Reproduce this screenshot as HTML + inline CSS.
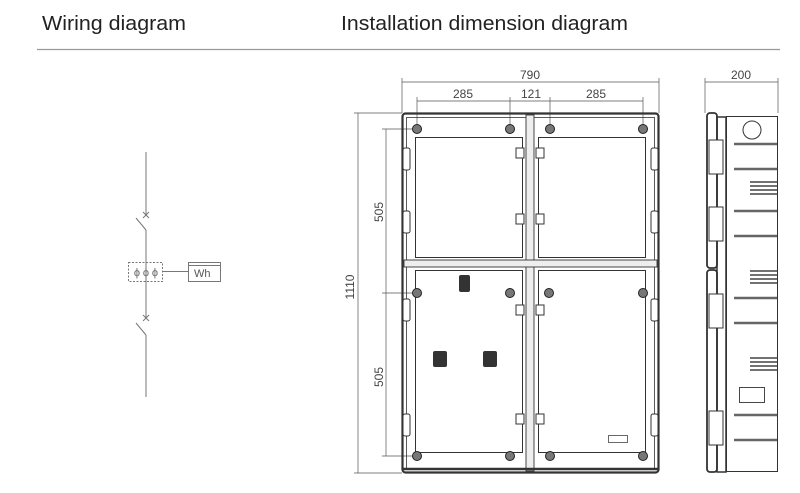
<!DOCTYPE html>
<html><head><meta charset="utf-8"><style>
html,body{margin:0;padding:0;background:#fff;}
svg{display:block;font-family:"Liberation Sans",sans-serif;}
</style></head><body>
<svg width="800" height="493" viewBox="0 0 800 493" xmlns="http://www.w3.org/2000/svg">
<rect width="800" height="493" fill="#fff"/>
<text x="42" y="30" font-size="20" fill="#222" textLength="144" lengthAdjust="spacingAndGlyphs">Wiring diagram</text>
<text x="341" y="30" font-size="20" fill="#222" textLength="287" lengthAdjust="spacingAndGlyphs">Installation dimension diagram</text>
<line x1="37" y1="49.5" x2="780" y2="49.5" stroke="#999" stroke-width="1.2"/>

<!-- wiring -->
<g stroke="#777" stroke-width="1" fill="none">
<line x1="146" y1="152" x2="146" y2="216"/>
<line x1="136" y1="218" x2="146" y2="230"/>
<line x1="143" y1="212" x2="149" y2="218"/><line x1="149" y1="212" x2="143" y2="218"/>
<line x1="146" y1="230" x2="146" y2="318"/>
<line x1="143" y1="315" x2="149" y2="321"/><line x1="149" y1="315" x2="143" y2="321"/>
<line x1="136" y1="323" x2="146" y2="335"/>
<line x1="146" y1="335" x2="146" y2="397"/>
<rect x="128.5" y="262.5" width="34" height="19" stroke-dasharray="2,1.5"/>
<line x1="163" y1="271.5" x2="188" y2="271.5"/>
<rect x="188.5" y="262.5" width="32" height="19"/>
<line x1="188" y1="265.5" x2="221" y2="265.5"/>
</g>
<g font-size="11" fill="#666" text-anchor="middle">
<text x="137" y="276">ϕ</text>
<text x="146" y="276">ϕ</text>
<text x="155" y="276">ϕ</text>
</g>
<text x="194" y="277" font-size="11" fill="#555">Wh</text>

<!-- dimensions front -->
<g stroke="#555" stroke-width="0.7" fill="none">
<line x1="402" y1="82" x2="659" y2="82"/>
<line x1="402" y1="78" x2="402" y2="113"/><line x1="659" y1="78" x2="659" y2="113"/>
<line x1="417" y1="101" x2="643" y2="101"/>
<line x1="417" y1="97" x2="417" y2="128"/><line x1="510" y1="97" x2="510" y2="128"/>
<line x1="550" y1="97" x2="550" y2="128"/><line x1="643" y1="97" x2="643" y2="128"/>
<line x1="358" y1="113" x2="358" y2="473"/>
<line x1="354" y1="113" x2="402" y2="113"/><line x1="354" y1="473" x2="402" y2="473"/>
<line x1="386" y1="129" x2="386" y2="456"/>
<line x1="382" y1="129" x2="417" y2="129"/><line x1="382" y1="293" x2="417" y2="293"/><line x1="382" y1="456" x2="417" y2="456"/>
<line x1="705" y1="82" x2="778" y2="82"/>
<line x1="705" y1="78" x2="705" y2="113"/><line x1="778" y1="78" x2="778" y2="113"/>
</g>
<g font-size="12" fill="#444" text-anchor="middle">
<text x="530" y="79">790</text>
<text x="463" y="98">285</text>
<text x="531" y="98">121</text>
<text x="596" y="98">285</text>
<text x="741" y="79">200</text>
<text transform="translate(354,287) rotate(-90)">1110</text>
<text transform="translate(383,212) rotate(-90)">505</text>
<text transform="translate(383,377) rotate(-90)">505</text>
</g>

<!-- front view -->
<g stroke="#333" fill="none">
<rect x="402.5" y="113.5" width="256" height="359" rx="3" stroke-width="2.2"/>
<rect x="406.5" y="117.5" width="248" height="351" stroke-width="0.8"/>
<rect x="526" y="115" width="8" height="356" stroke-width="0.9" fill="#eee"/>
<rect x="404" y="260" width="253" height="7" stroke-width="0.9" fill="#eee"/>
<rect x="415.5" y="137.5" width="107" height="120" stroke-width="1"/>
<rect x="538.5" y="137.5" width="107" height="120" stroke-width="1"/>
<rect x="415.5" y="270.5" width="107" height="182" stroke-width="1"/>
<rect x="538.5" y="270.5" width="107" height="182" stroke-width="1"/>
<line x1="403" y1="469" x2="658" y2="469" stroke-width="2.5"/>
</g>
<g stroke="#333" stroke-width="1" fill="#fff">
<rect x="403" y="148" width="7" height="22" rx="2"/><rect x="403" y="211" width="7" height="22" rx="2"/>
<rect x="651" y="148" width="7" height="22" rx="2"/><rect x="651" y="211" width="7" height="22" rx="2"/>
<rect x="403" y="299" width="7" height="22" rx="2"/><rect x="403" y="414" width="7" height="22" rx="2"/>
<rect x="651" y="299" width="7" height="22" rx="2"/><rect x="651" y="414" width="7" height="22" rx="2"/>
<rect x="516" y="148" width="8" height="10"/><rect x="536" y="148" width="8" height="10"/>
<rect x="516" y="214" width="8" height="10"/><rect x="536" y="214" width="8" height="10"/>
<rect x="516" y="305" width="8" height="10"/><rect x="536" y="305" width="8" height="10"/>
<rect x="516" y="414" width="8" height="10"/><rect x="536" y="414" width="8" height="10"/>
</g>
<g fill="#777" stroke="#222" stroke-width="1">
<circle cx="417" cy="129" r="4.5"/><circle cx="510" cy="129" r="4.5"/><circle cx="550" cy="129" r="4.5"/><circle cx="643" cy="129" r="4.5"/>
<circle cx="417" cy="456" r="4.5"/><circle cx="510" cy="456" r="4.5"/><circle cx="550" cy="456" r="4.5"/><circle cx="643" cy="456" r="4.5"/>
<circle cx="417" cy="293" r="4.5"/><circle cx="643" cy="293" r="4.5"/><circle cx="510" cy="293" r="4.5"/><circle cx="549" cy="293" r="4.5"/>
</g>
<g fill="#333">
<rect x="459" y="275" width="11" height="17" rx="2"/>
<rect x="433" y="351" width="14" height="16" rx="2"/>
<rect x="483" y="351" width="14" height="16" rx="2"/>
</g>
<rect x="608.5" y="435.5" width="19" height="7" fill="none" stroke="#444" stroke-width="0.8"/>

<!-- side view -->
<g stroke="#333" fill="none">
<rect x="707" y="113" width="10" height="155" rx="3" stroke-width="1.8"/>
<rect x="707" y="270" width="10" height="202" rx="3" stroke-width="1.8"/>
<rect x="717" y="117" width="9" height="355" stroke-width="1.5"/>
<rect x="726.5" y="116.5" width="51" height="355" stroke-width="1"/>
<circle cx="752" cy="130" r="9" stroke-width="1"/>
<rect x="739.5" y="387.5" width="25" height="15" stroke-width="0.9"/>
</g>
<g stroke="#666" stroke-width="2.5">
<line x1="734" y1="144" x2="777" y2="144"/><line x1="734" y1="169" x2="777" y2="169"/>
<line x1="734" y1="211" x2="777" y2="211"/><line x1="734" y1="236" x2="777" y2="236"/>
<line x1="734" y1="298" x2="777" y2="298"/><line x1="734" y1="323" x2="777" y2="323"/>
<line x1="734" y1="415" x2="777" y2="415"/><line x1="734" y1="440" x2="777" y2="440"/>
</g>
<g stroke="#444" stroke-width="1.5">
<line x1="750" y1="182" x2="777" y2="182"/><line x1="750" y1="186" x2="777" y2="186"/><line x1="750" y1="190" x2="777" y2="190"/><line x1="750" y1="194" x2="777" y2="194"/>
<line x1="750" y1="271" x2="777" y2="271"/><line x1="750" y1="275" x2="777" y2="275"/><line x1="750" y1="279" x2="777" y2="279"/><line x1="750" y1="283" x2="777" y2="283"/>
<line x1="750" y1="358" x2="777" y2="358"/><line x1="750" y1="362" x2="777" y2="362"/><line x1="750" y1="366" x2="777" y2="366"/><line x1="750" y1="370" x2="777" y2="370"/>
</g>
<g fill="#fff" stroke="#333" stroke-width="1">
<rect x="709" y="140" width="14" height="34"/><rect x="709" y="207" width="14" height="34"/>
<rect x="709" y="294" width="14" height="34"/><rect x="709" y="411" width="14" height="34"/>
</g>
</svg>
</body></html>
